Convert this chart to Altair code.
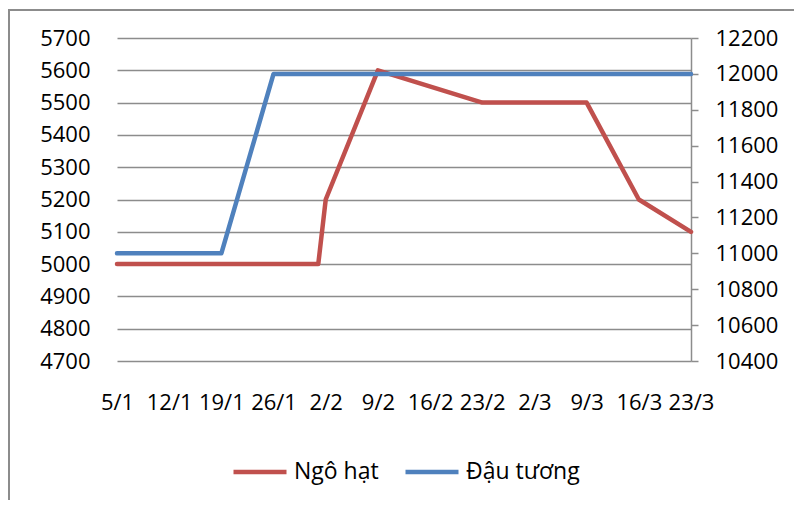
import altair as alt
import pandas as pd

# ---- data ----
series_names = ["Ngô hạt", "Đậu tương"]
series_colors = ["#C0504D", "#4F81BD"]

ngo_dates = ["2015-01-05", "2015-01-12", "2015-01-19", "2015-01-26", "2015-02-01",
             "2015-02-02", "2015-02-09", "2015-02-23", "2015-03-02", "2015-03-09",
             "2015-03-16", "2015-03-23"]
ngo_values = [5000, 5000, 5000, 5000, 5000, 5200, 5600, 5500, 5500, 5500, 5200, 5100]

dau_dates = ["2015-01-05", "2015-01-12", "2015-01-19", "2015-01-26", "2015-02-02",
             "2015-02-09", "2015-02-16", "2015-02-23", "2015-03-02", "2015-03-09",
             "2015-03-16", "2015-03-23"]
dau_values = [11000, 11000, 11000, 12000, 12000, 12000, 12000, 12000, 12000, 12000,
              12000, 12000]

tick_dates = ["2015-01-05", "2015-01-12", "2015-01-19", "2015-01-26", "2015-02-02",
              "2015-02-09", "2015-02-16", "2015-02-23", "2015-03-02", "2015-03-09",
              "2015-03-16", "2015-03-23"]
left_ticks = [4700, 4800, 4900, 5000, 5100, 5200, 5300, 5400, 5500, 5600, 5700]
right_ticks = [10400, 10600, 10800, 11000, 11200, 11400, 11600, 11800, 12000, 12200]

# ---- build table ----
df = pd.concat([
    pd.DataFrame({"date": ngo_dates, "value": ngo_values, "series": series_names[0]}),
    pd.DataFrame({"date": dau_dates, "value": dau_values, "series": series_names[1]}),
], ignore_index=True)


def ms(d):
    return int(pd.Timestamp(d, tz="UTC").timestamp() * 1000)


tick_ms = [ms(d) for d in tick_dates]
FONT = "Open Sans"
GRID = "#8c8c8c"

x_enc = alt.X(
    "date:T",
    scale=alt.Scale(type="utc", domain=[tick_ms[0], tick_ms[-1]]),
    axis=alt.Axis(values=tick_ms, labelExpr="utcFormat(datum.value, '%-d/%-m')",
                  domain=False, ticks=False, grid=False, title=None,
                  labelOverlap=False, labelFlush=False, labelBound=False,
                  labelFont=FONT, labelFontSize=22, labelColor="#000000",
                  labelPadding=31),
)

color_enc = alt.Color(
    "series:N",
    scale=alt.Scale(domain=series_names, range=series_colors),
    legend=alt.Legend(title=None, orient="none", direction="horizontal",
                      legendX=114, legendY=405, symbolType="stroke",
                      symbolSize=2809, symbolStrokeWidth=4.5, labelFont=FONT,
                      labelFontSize=23, labelColor="#000000", labelOffset=5,
                      columnPadding=17),
)

base = alt.Chart(df)

left = base.transform_filter(alt.datum.series == series_names[0]).mark_line(
    strokeWidth=4.5, strokeJoin="round", strokeCap="round"
).encode(
    x=x_enc,
    y=alt.Y("value:Q",
            scale=alt.Scale(domain=[4700, 5700], nice=False, zero=False),
            axis=alt.Axis(values=left_ticks, format="d", orient="left", domain=False,
                          ticks=False, grid=True, gridColor=GRID, gridWidth=1.5,
                          title=None, labelFont=FONT, labelFontSize=22,
                          labelColor="#000000", labelPadding=27)),
    color=color_enc,
)

right = base.transform_filter(alt.datum.series == series_names[1]).mark_line(
    strokeWidth=4.5, strokeJoin="round", strokeCap="round"
).encode(
    x=x_enc,
    y=alt.Y("value:Q",
            scale=alt.Scale(domain=[10400, 12200], nice=False, zero=False),
            axis=alt.Axis(values=right_ticks, format="d", orient="right", domain=True,
                          domainColor=GRID, domainWidth=1.5, ticks=True, tickSize=7,
                          tickColor=GRID, tickWidth=1.5, grid=False, title=None,
                          labelFont=FONT, labelFontSize=22, labelColor="#000000",
                          labelPadding=17)),
    color=color_enc,
)

border = alt.Chart(pd.DataFrame({"k": [0]})).mark_rect(
    filled=False, stroke="#8c8c8c", strokeWidth=2
).encode(
    x=alt.value(-108), x2=alt.value(800), y=alt.value(-28), y2=alt.value(600)
)

chart = alt.layer(border, left, right).resolve_scale(y="independent").properties(
    width=574, height=323, autosize="none",
    padding={"left": 109, "top": 30, "right": 103, "bottom": 139},
).configure_view(stroke=None)

chart.save("out.html", embed_options={"renderer": "svg", "actions": False})
